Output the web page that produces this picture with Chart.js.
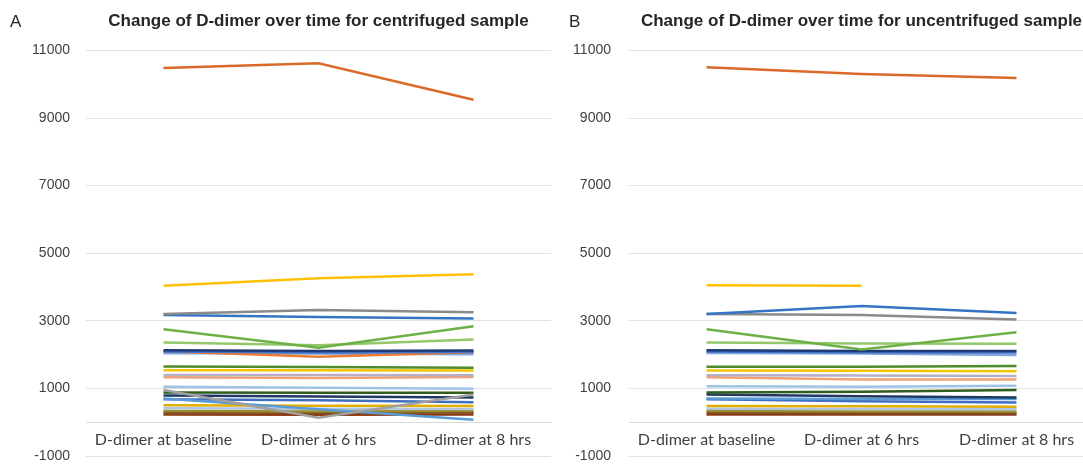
<!DOCTYPE html>
<html>
<head>
<meta charset="utf-8">
<script src="https://cdn.jsdelivr.net/npm/chart.js@4.4.1/dist/chart.umd.min.js"></script>
<style>
  html, body { margin: 0; padding: 0; background: #ffffff; overflow: hidden; }
  #wrap { position: relative; width: 1083px; height: 470px; overflow: hidden; }
  canvas { position: absolute; top: 0; }
  #chartA { left: 0; width: 570px; height: 470px; }
  #chartB { left: 570px; width: 540px; height: 470px; }
  .tag { position: absolute; top: 12px; font: 17px "Liberation Sans", Arial, sans-serif; color: #262626; }
</style>
</head>
<body>
<div id="wrap">
  <canvas id="chartA" width="570" height="470"></canvas>
  <canvas id="chartB" width="540" height="470"></canvas>
  <div class="tag" style="left:10px">A</div>
  <div class="tag" style="left:569px">B</div>
</div>
<script>
// Time points on the category axis
const categories = ['D-dimer at baseline', 'D-dimer at 6 hrs', 'D-dimer at 8 hrs'];

// Value axis range and tick spacing
const yAxisMin = -1000;
const yAxisMax = 11000;
const yAxisStep = 2000;

// D-dimer per sample, centrifuged (baseline, 6 hrs, 8 hrs)
const centrifugedValues = [
  [10480, 10620, 9540],
  [4040, 4260, 4380],
  [3200, 3320, 3250],
  [3170, 3110, 3070],
  [2750, 2200, 2840],
  [2360, 2280, 2450],
  [2130, 2110, 2120],
  [2090, 2060, 2080],
  [2100, 1940, 2070],
  [2040, 2030, 2010],
  [1650, 1630, 1610],
  [1540, 1540, 1530],
  [1400, 1400, 1390],
  [1330, 1310, 1340],
  [1050, 1020, 990],
  [950, 130, 820],
  [880, 870, 870],
  [790, 760, 730],
  [700, 380, 70],
  [680, 650, 590],
  [500, 490, 480],
  [410, 400, 390],
  [330, 320, 330],
  [290, 280, 285],
  [230, 220, 230]
];

// D-dimer per sample, uncentrifuged (baseline, 6 hrs, 8 hrs)
const uncentrifugedValues = [
  [10500, 10300, 10180],
  [4050, 4040, null],
  [3200, 3440, 3230],
  [3200, 3170, 3040],
  [2750, 2150, 2660],
  [2360, 2330, 2320],
  [2130, 2110, 2110],
  [2090, 2070, 2060],
  [2050, 2030, 1990],
  [1640, 1640, 1660],
  [1530, 1520, 1510],
  [1390, 1380, 1370],
  [1330, 1260, 1260],
  [1060, 1050, 1080],
  [880, 900, 950],
  [820, 770, 730],
  [700, 690, 690],
  [680, 620, 580],
  [480, 470, 460],
  [400, 390, 380],
  [330, 320, 320],
  [280, 270, 260],
  [230, 230, 230]
];

// Line colours per sample
const centrifugedColors = [
  '#DA6A2A', '#FFC000', '#8A8A8A', '#3574C4', '#6DB045', '#93C86A', '#1F3A78',
  '#4472C4', '#ED7D31', '#7FA7DE', '#4E8B2C', '#F2C500', '#B6AEC4', '#F0A274',
  '#9DC3E6', '#A0A0A0', '#2F5E1E', '#203864', '#5B9BD5', '#3E6FC0', '#E0AE00',
  '#AFC6E0', '#9A8A2A', '#7A4A24', '#8E3A12'
];
const uncentrifugedColors = [
  '#DA6A2A', '#FFC000', '#3574C4', '#8A8A8A', '#6DB045', '#93C86A', '#1F3A78',
  '#4472C4', '#7FA7DE', '#4E8B2C', '#F2C500', '#B6AEC4', '#F0A274', '#9DC3E6',
  '#2F5E1E', '#203864', '#5B9BD5', '#3E6FC0', '#E0AE00', '#AFC6E0', '#9A8A2A',
  '#7A4A24', '#8E3A12'
];

const TEXT_COLOR = '#404040';
const GRID_COLOR = '#E2E2E2';

function makeChart(canvasId, title, values, colors, axisWidth, labelGap, rightPad) {
  const datasets = values.map((row, i) => ({
    label: 'Sample ' + (i + 1),
    data: row,
    borderColor: colors[i],
    backgroundColor: colors[i],
    borderWidth: 2.5,
    pointRadius: 0,
    pointHoverRadius: 0,
    tension: 0,
    fill: false,
    spanGaps: false
  }));

  return new Chart(document.getElementById(canvasId), {
    type: 'line',
    data: { labels: categories, datasets },
    options: {
      responsive: false,
      animation: false,
      devicePixelRatio: 1,
      layout: { padding: { left: 0, right: rightPad, top: 0, bottom: 14 } },
      plugins: {
        legend: { display: false },
        tooltip: { enabled: false },
        title: {
          display: true,
          text: title,
          fullSize: false,
          color: '#262626',
          font: { family: '"Liberation Sans", Arial, sans-serif', size: 17, weight: 'bold' },
          padding: { top: 11, bottom: 19 }
        }
      },
      scales: {
        x: {
          type: 'category',
          offset: true,
          position: { y: 0 },
          grid: { display: false, drawTicks: false },
          border: { display: true, color: '#D9D9D9', width: 1 },
          ticks: {
            padding: 8,
            color: TEXT_COLOR,
            autoSkip: false,
            maxRotation: 0,
            font: { family: 'Lato, "Liberation Sans", sans-serif', size: 16 }
          },
          // the axis sits inside the plot at zero, so it needs no room of its own
          afterFit: scale => { scale.height = 0; }
        },
        y: {
          min: yAxisMin,
          max: yAxisMax,
          // invisible tick marks keep the labels clear of the plot edge
          grid: { color: GRID_COLOR, lineWidth: 1, drawTicks: true, tickLength: labelGap, tickColor: 'rgba(0,0,0,0)' },
          border: { display: false },
          ticks: {
            stepSize: yAxisStep,
            padding: 0,
            color: TEXT_COLOR,
            font: { family: '"Liberation Sans", Arial, sans-serif', size: 14 },
            callback: v => String(v)
          },
          afterFit: scale => { scale.width = axisWidth; }
        }
      }
    }
  });
}

makeChart('chartA', 'Change of D-dimer over time for centrifuged sample',
  centrifugedValues, centrifugedColors, 86, 16, 19);
makeChart('chartB', 'Change of D-dimer over time for uncentrifuged sample',
  uncentrifugedValues, uncentrifugedColors, 59, 18, 16);
</script>
</body>
</html>
